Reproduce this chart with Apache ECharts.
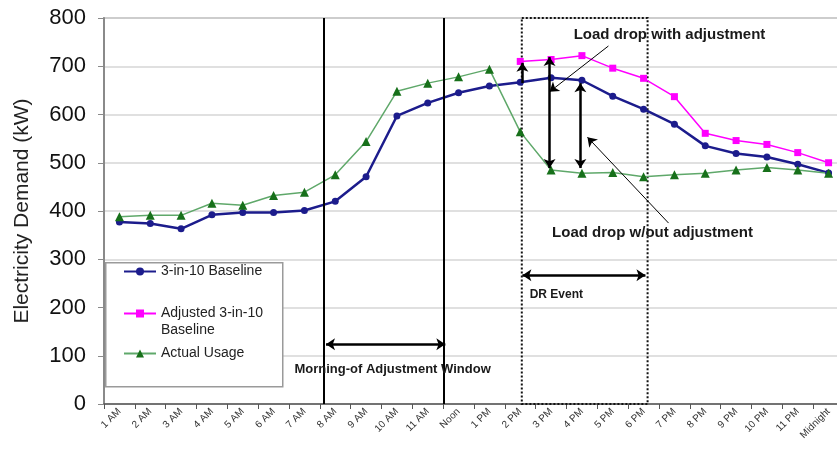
<!DOCTYPE html>
<html><head><meta charset="utf-8">
<script src="https://cdn.jsdelivr.net/npm/echarts@6/dist/echarts.min.js"></script>
<style>html,body{margin:0;padding:0;background:#fff}#c{width:837px;height:452px}</style>
</head><body><div id="c"></div>
<script>
const categories = ['1 AM','2 AM','3 AM','4 AM','5 AM','6 AM','7 AM','8 AM','9 AM','10 AM','11 AM','Noon','1 PM','2 PM','3 PM','4 PM','5 PM','6 PM','7 PM','8 PM','9 PM','10 PM','11 PM','Midnight'];
const baseline = [377,374,363,392,397,397,401,420,471,597,624,645,659,667,676,671,638,611,580,535,519,512,497,479];
const adjusted = [null,null,null,null,null,null,null,null,null,null,null,null,null,710,714,722,696,675,637,561,546,538,521,500];
const actual = [388,391,391,416,412,432,439,475,544,648,665,678,694,564,485,478,480,471,475,478,485,490,485,478];
const yTicks = {min:0, max:800, interval:100};
const FONT = 'Liberation Sans, Arial, sans-serif';

const chart = echarts.init(document.getElementById('c'), null, {renderer:'canvas'});
const arrowLine = (x1,y1,x2,y2,s1,s2,w)=>[
  {coord:[x1,y1], symbol:s1, lineStyle:{width:w}},
  {coord:[x2,y2], symbol:s2}
];
const txt = (x,y,t,size)=>({coord:[x,y], value:t, label:{show:true, formatter:t, fontSize:size, fontWeight:'bold', color:'#1a1a1a', fontFamily:FONT, position:'inside'}});
const legText = {fontSize:14, color:'#222', fontFamily:FONT, lineHeight:17};

chart.setOption({
  animation:false,
  grid:{left:104, top:18, width:740, height:386, outerBoundsMode:'none', containLabel:false, show:true, borderColor:'#9a9a9a', borderWidth:1.5, backgroundColor:'transparent'},
  xAxis:[{
    type:'category', data:categories, boundaryGap:true,
    axisLine:{lineStyle:{color:'#555', width:1.5}},
    axisTick:{show:true, interval:0, length:5, lineStyle:{color:'#555'}},
    axisLabel:{interval:0, rotate:45, fontSize:10, color:'#333', fontFamily:FONT, margin:6},
    splitLine:{show:false}
  },{
    type:'value', min:-0.5, max:23.5, show:false
  }],
  yAxis:{
    type:'value', min:yTicks.min, max:yTicks.max, interval:yTicks.interval,
    name:'Electricity Demand (kW)', nameLocation:'middle', nameGap:71, nameRotate:90,
    nameTextStyle:{fontSize:21, color:'#222', fontFamily:FONT},
    axisLine:{show:true, onZero:false, lineStyle:{color:'#8a8a8a', width:2}},
    axisTick:{show:true, length:6, lineStyle:{color:'#8a8a8a'}},
    axisLabel:{fontSize:22, color:'#111', fontFamily:FONT, margin:18},
    splitLine:{lineStyle:{color:'#d6d6d6', width:1.5}}
  },
  legend:[
    {data:['3-in-10 Baseline'], left:123, top:263, orient:'vertical', itemWidth:32, itemHeight:10, itemGap:0, padding:0, textStyle:legText, z:10, selectedMode:false},
    {data:['Adjusted 3-in-10\nBaseline'], left:123, top:288, orient:'vertical', itemWidth:32, itemHeight:10, itemGap:0, padding:0, textStyle:legText, z:10, selectedMode:false,
     formatter:(n)=>' \n'+n},
    {data:['Actual Usage'], left:123, top:345, orient:'vertical', itemWidth:32, itemHeight:10, itemGap:0, padding:0, textStyle:legText, z:10, selectedMode:false}
  ],
  graphic:[{type:'rect', left:105, top:262, shape:{width:177, height:124}, style:{fill:'#fff', stroke:'#9a9a9a', lineWidth:1.5}, z:5}],
  series:[
    {name:'3-in-10 Baseline', type:'line', data:baseline, symbol:'circle', symbolSize:7, z:3,
     lineStyle:{color:'#1c1c8c', width:2.5}, itemStyle:{color:'#1c1c8c'}},
    {name:'Adjusted 3-in-10\nBaseline', type:'line', data:adjusted, symbol:'rect', symbolSize:7, z:3,
     lineStyle:{color:'#ff00ff', width:1.5}, itemStyle:{color:'#ff00ff'}},
    {name:'Actual Usage', type:'line', data:actual, symbol:'triangle', symbolSize:9, z:3,
     lineStyle:{color:'#5fa86a', width:1.5}, itemStyle:{color:'#17701a'}},
    {name:'annot', type:'line', xAxisIndex:1, data:[], z:4, silent:true,
     markLine:{silent:true, animation:false, symbol:['none','none'], symbolSize:9, label:{show:false},
       lineStyle:{color:'#000', type:'solid', width:2},
       emphasis:{disabled:true},
       data:[
         arrowLine(6.62,800,6.62,0,'none','none',2),
         arrowLine(10.51,800,10.51,0,'none','none',2),
         arrowLine(6.7,124,10.57,124,'arrow','arrow',2.5),
         arrowLine(13.07,267,17.06,267,'arrow','arrow',2.5),
         arrowLine(13.95,719,13.95,489,'arrow','arrow',2.5),
         arrowLine(14.95,665,14.95,489,'arrow','arrow',2.5),
         arrowLine(13.07,665,13.07,707,'none','arrow',2.5),
         arrowLine(15.86,742,13.95,647,'none','arrow',1),
         arrowLine(17.81,375,15.18,553,'none','arrow',1)
       ]},
     markArea:{silent:true, itemStyle:{color:'rgba(0,0,0,0)', borderColor:'#111', borderType:'dotted', borderWidth:2},
       data:[[{coord:[13.05,800]},{coord:[17.13,0]}]]},
     markPoint:{silent:true, symbol:'rect', symbolSize:1, itemStyle:{color:'rgba(0,0,0,0)'},
       data:[
         txt(17.84,765,'Load drop with adjustment',15),
         txt(17.29,354,'Load drop w/out adjustment',15),
         txt(14.17,226,'DR Event',12),
         txt(8.86,72,'Morning-of Adjustment Window',13)
       ]}
    }
  ]
});
</script></body></html>
